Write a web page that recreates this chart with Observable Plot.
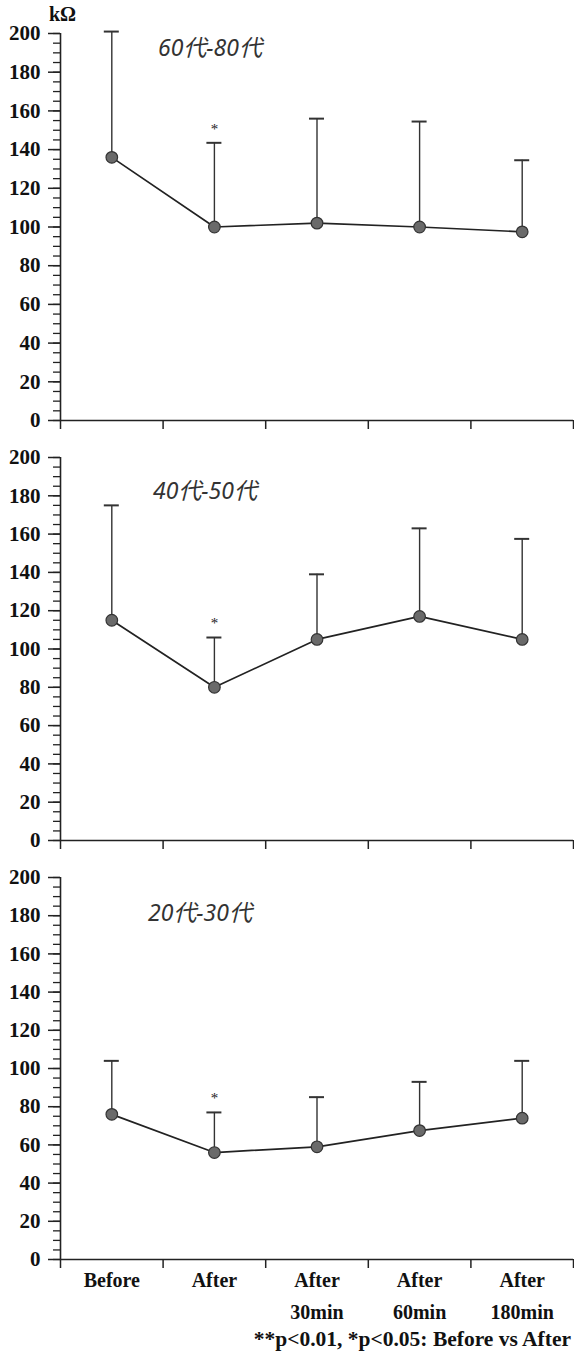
<!DOCTYPE html>
<html>
<head>
<meta charset="utf-8">
<script src="https://cdn.jsdelivr.net/npm/d3@7"></script>
<script src="https://cdn.jsdelivr.net/npm/@observablehq/plot@0.6"></script>
<style>
  html, body { margin: 0; padding: 0; background: white; }
  #wrap { position: relative; width: 574px; height: 1352px; overflow: hidden; }
  #wrap svg { position: absolute; left: 0; overflow: visible; }
  #wrap svg text { font-family: "Liberation Serif", "Times New Roman", serif !important; font-variant-numeric: normal !important; }
  .title { position: absolute; font-family: "Noto Sans", "Noto Sans CJK JP", sans-serif; font-style: italic; font-size: 23px; color: #333; white-space: nowrap; }
  .serif { position: absolute; font-family: "Liberation Serif", "Times New Roman", serif; font-weight: bold; color: #111; white-space: nowrap; }
</style>
</head>
<body>
<div id="wrap"></div>
<script>
// ---- data ----
const categories = ["Before", "After", "After\n30min", "After\n60min", "After\n180min"];
const sigMarks = ["", "*", "", "", ""];
const yTicks = [0, 20, 40, 60, 80, 100, 120, 140, 160, 180, 200];
const yMinorTicks = d3.range(0, 201, 5);
const unitLabel = "kΩ";
const footnote = "**p<0.01, *p<0.05: Before vs After";

const titles = ["60代-80代", "40代-50代", "20代-30代"];
const mean6080 = [136, 100, 102, 100, 97.5];
const upper6080 = [201, 143.5, 156, 154.5, 134.5];
const mean4050 = [115, 80, 105, 117, 105];
const upper4050 = [175, 106, 139, 163, 157.5];
const mean2030 = [76, 56, 59, 67.5, 74];
const upper2030 = [104, 77, 85, 93, 104];

const wrap = document.getElementById("wrap");
const SERIF = "'Liberation Serif', 'Times New Roman', serif";

function rows(mean, upper) {
  return categories.map((c, i) => ({ cat: c, i, pos: i + 0.5, mean: mean[i], upper: upper[i], sig: sigMarks[i] }));
}

function panel(mean, upper, { top, height, marginTop, marginBottom, labels }) {
  const data = rows(mean, upper);
  const marks = [
    Plot.ruleY([0], { stroke: "#222", strokeWidth: 1.6 }),
    Plot.ruleX([0], { y1: 0, y2: 200, stroke: "#222", strokeWidth: 1.6 }),
    Plot.axisY(yMinorTicks, { tickSize: 7, tickFormat: () => "", stroke: "#222", strokeWidth: 1.3 }),
    Plot.axisY(yTicks, { tickSize: 12, tickPadding: 8, stroke: "#222", strokeWidth: 1.5, fill: "#111", label: null, fontFamily: SERIF, fontSize: 21, fontWeight: "bold" }),
    Plot.axisX(d3.range(categories.length + 1), { tickSize: 9, tickFormat: () => "", stroke: "#222", strokeWidth: 1.5, label: null }),
    Plot.ruleX(data, { x: "pos", y1: "mean", y2: "upper", stroke: "#333", strokeWidth: 1.4 }),
    Plot.ruleY(data, { y: "upper", x1: "pos", x2: "pos", insetLeft: -7.5, insetRight: -7.5, stroke: "#333", strokeWidth: 2 }),
    Plot.line(data, { x: "pos", y: "mean", stroke: "#222", strokeWidth: 1.7 }),
    Plot.dot(data, { x: "pos", y: "mean", r: 5.8, fill: "#6a6a6a", stroke: "#333", strokeWidth: 1.2 }),
    Plot.text(data, { x: "pos", y: "upper", text: "sig", dy: -14, fontSize: 15, fontFamily: SERIF, fontWeight: "normal", fill: "#222" })
  ];
  if (labels) {
    marks.push(Plot.text(data, { x: "pos", y: 0, text: "cat", lineAnchor: "top", dy: 5, lineHeight: 1.6, fontSize: 20, fontFamily: SERIF, fontWeight: "bold", fill: "#111" }));
  }
  const chart = Plot.plot({
    width: 574,
    height,
    marginLeft: 60,
    marginRight: 1,
    marginTop,
    marginBottom,
    style: { fontFamily: SERIF, fontSize: "20px", fontWeight: "bold", background: "transparent", overflow: "visible" },
    x: { type: "linear", domain: [0, categories.length], axis: null },
    y: { domain: [0, 200], axis: null },
    marks
  });
  chart.style.top = top + "px";
  wrap.appendChild(chart);
}

panel(mean6080, upper6080, { top: 0, height: 437, marginTop: 33, marginBottom: 17, labels: false });
panel(mean4050, upper4050, { top: 437, height: 420, marginTop: 20, marginBottom: 17, labels: false });
panel(mean2030, upper2030, { top: 857, height: 472, marginTop: 20, marginBottom: 70, labels: true });

// titles
const titlePos = [[158, 29], [153, 472], [148, 894]];
titles.forEach((t, k) => {
  const d = document.createElement("div");
  d.className = "title";
  d.textContent = t;
  d.style.left = titlePos[k][0] + "px";
  d.style.top = titlePos[k][1] + "px";
  wrap.appendChild(d);
});

const u = document.createElement("div");
u.className = "serif";
u.style.left = "49px"; u.style.top = "3px"; u.style.fontSize = "20px";
u.textContent = unitLabel;
wrap.appendChild(u);

const f = document.createElement("div");
f.className = "serif";
f.style.right = "3px"; f.style.top = "1327px"; f.style.fontSize = "21.5px";
f.textContent = footnote;
wrap.appendChild(f);
</script>
</body>
</html>
